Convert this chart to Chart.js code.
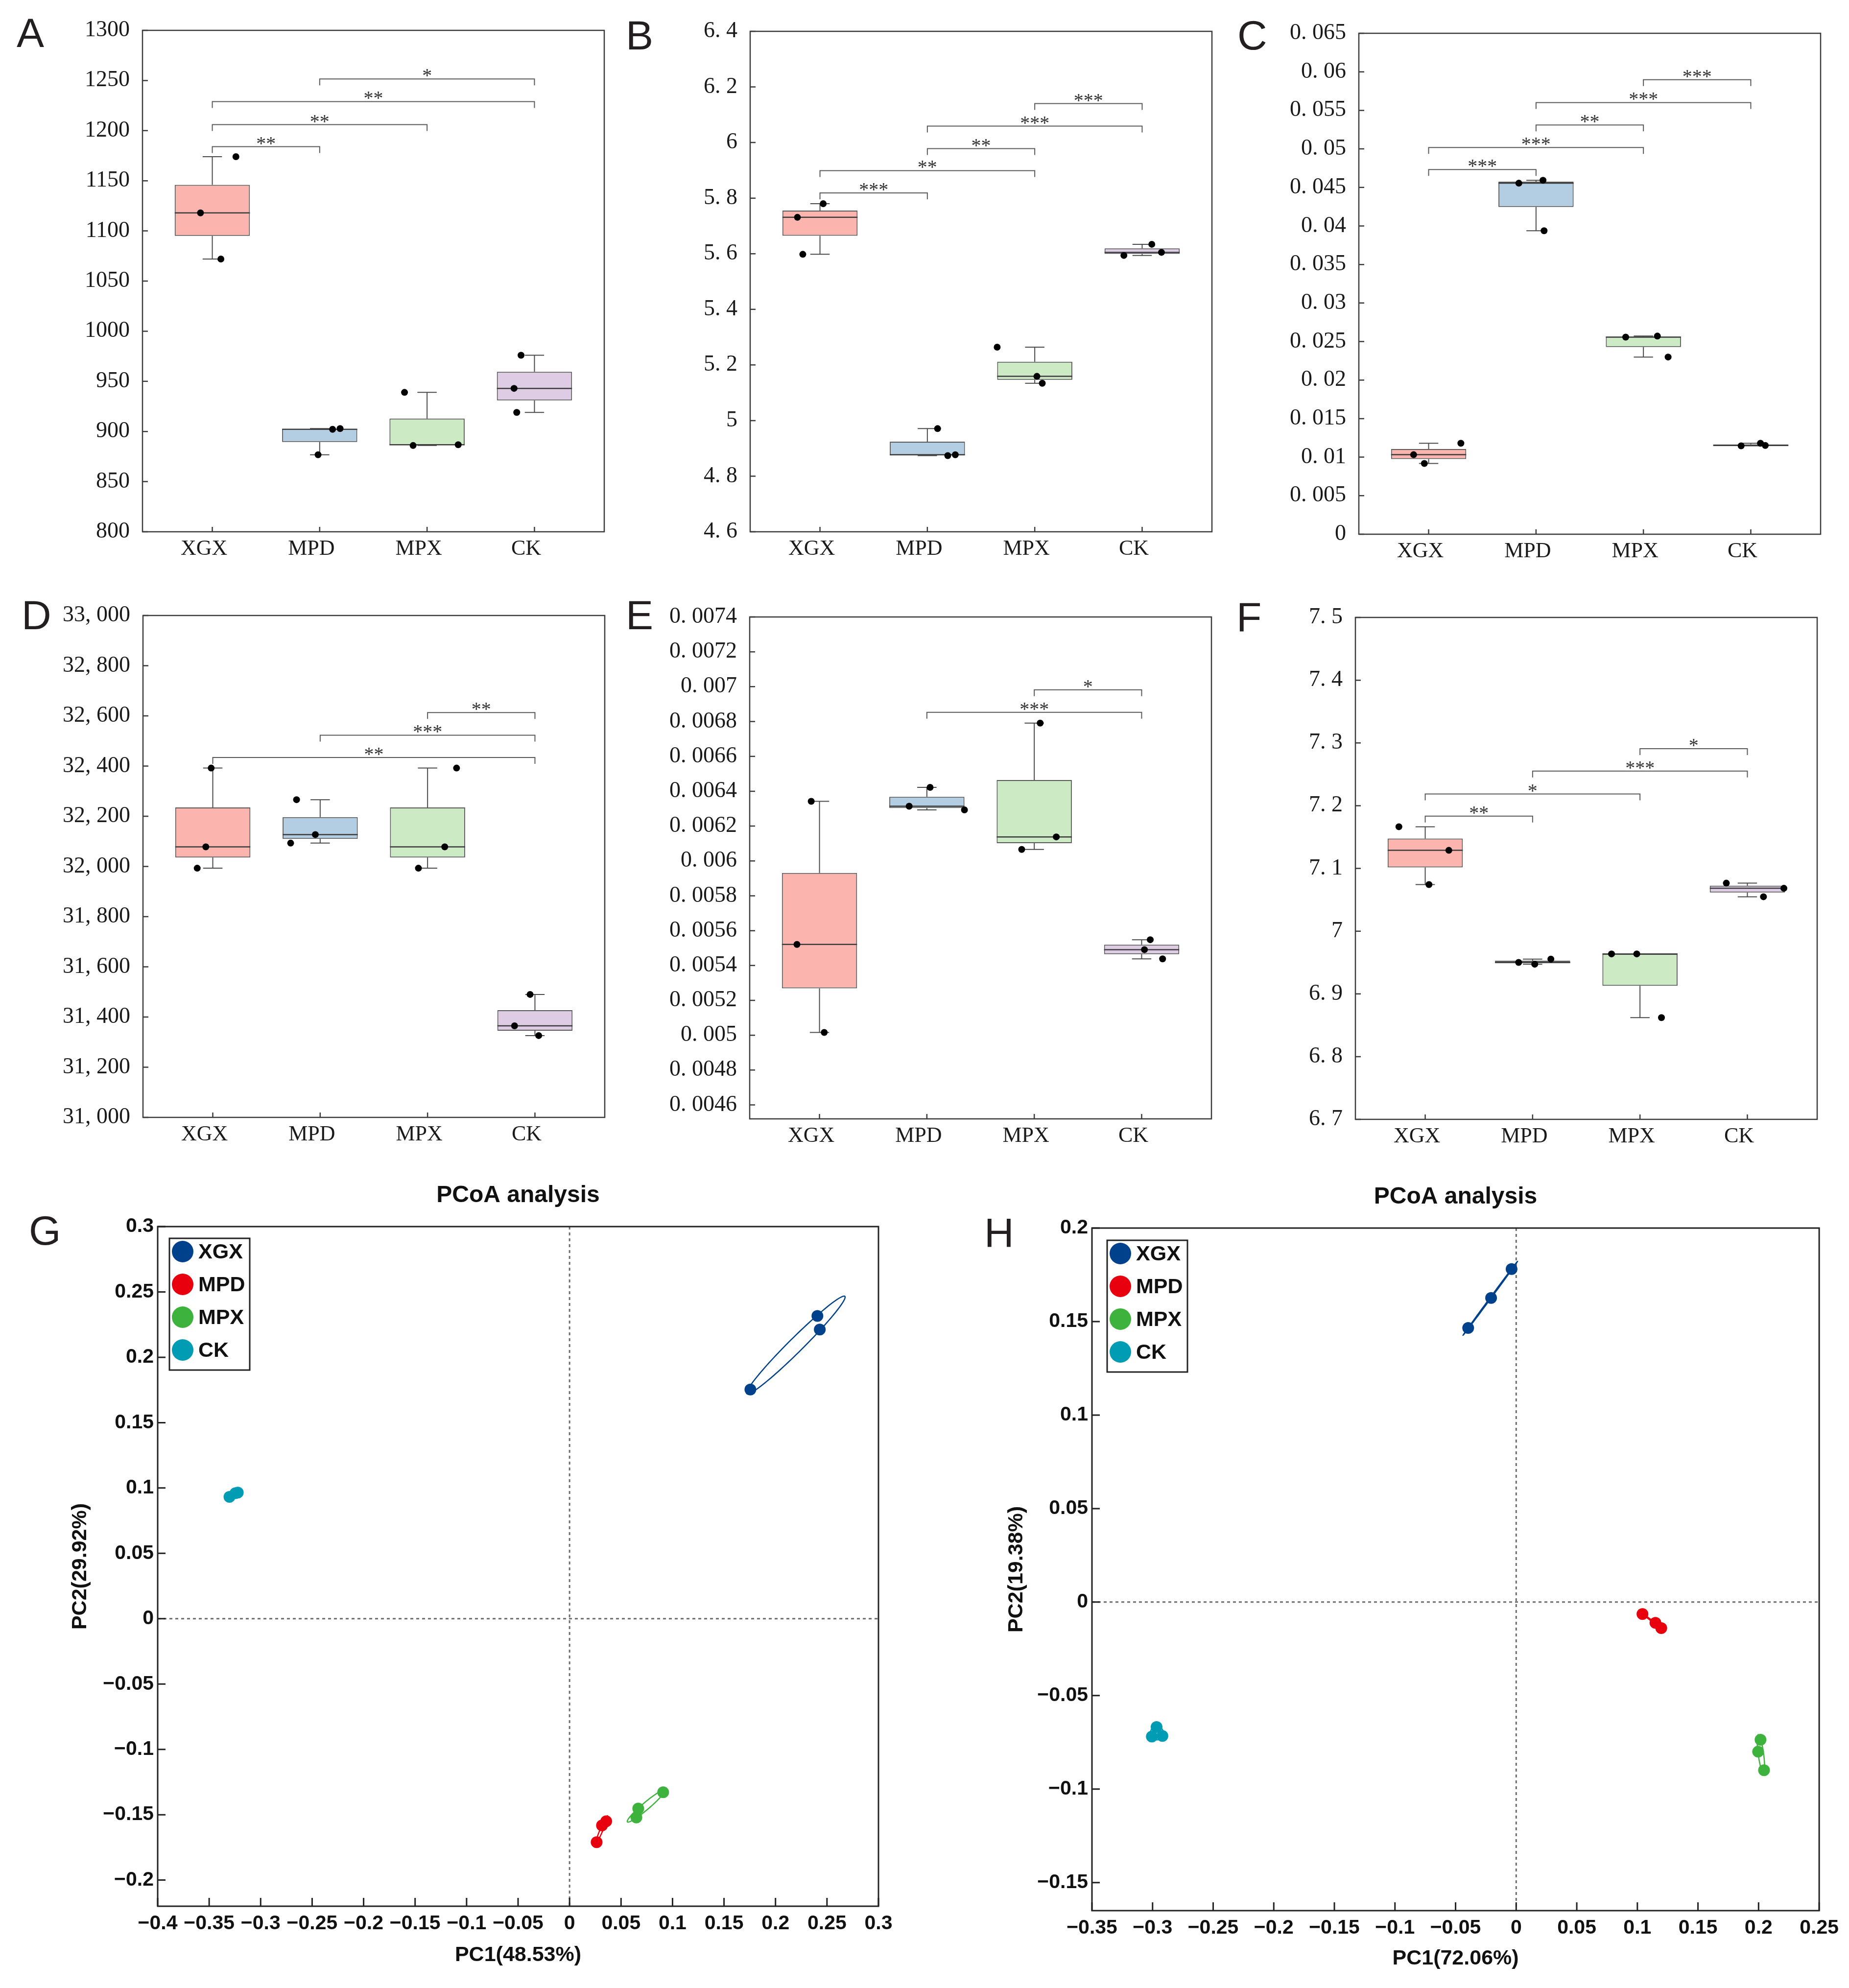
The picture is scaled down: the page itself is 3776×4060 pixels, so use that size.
<!DOCTYPE html>
<html>
<head>
<meta charset="utf-8">
<title>Box plots and PCoA</title>
<script src="https://cdn.jsdelivr.net/npm/chart.js@4.4.0/dist/chart.umd.min.js"></script>
<style>
    html, body { margin: 0; padding: 0; background: #fff; }
    #page { position: relative; width: 3776px; height: 4060px; overflow: hidden; background: #fff; }
    .letter { position: absolute; font-family: "Liberation Sans", Arial, sans-serif; font-size: 84px; line-height: 84px; color: #231f20; z-index: 5; }
</style>
</head>
<body>
<div id="page"></div>
<script>
// ---- data ----
const groups = ['XGX', 'MPD', 'MPX', 'CK'];
const boxFill = ['#FBB4AE', '#B3CDE3', '#CCEBC5', '#DECBE4'];
const pcoaColors = ['#00418B', '#E8000F', '#3DB23D', '#009CB4'];

// A
const ticksA = ['800', '850', '900', '950', '1000', '1050', '1100', '1150', '1200', '1250', '1300'];
const ptsA = [[1118, 1174, 1072], [902.2, 902.9, 876.8], [939, 886, 886.8], [976, 943, 919]];
const jitA = [[-0.11, 0.22, 0.08], [0.12, 0.19, -0.015], [-0.21, -0.13, 0.29], [-0.125, -0.19, -0.165]];
const sigA = [[1, 2, 1184, '**'], [1, 3, 1206, '**'], [1, 4, 1229, '**'], [2, 4, 1251.5, '*']];

// B
const ticksB = ['4. 6', '4. 8', '5', '5. 2', '5. 4', '5. 6', '5. 8', '6', '6. 2', '6. 4'];
const ptsB = [[5.731, 5.78, 5.598], [4.971, 4.874, 4.877], [5.264, 5.159, 5.134], [5.634, 5.594, 5.605]];
const jitB = [[-0.21, 0.03, -0.16], [0.095, 0.19, 0.26], [-0.35, 0.02, 0.07], [0.09, -0.17, 0.18]];
const sigB = [[1, 2, 5.819, '***'], [1, 3, 5.899, '**'], [2, 3, 5.978, '**'], [2, 4, 6.059, '***'], [3, 4, 6.14, '***']];

// C
const ticksC = ['0', '0. 005', '0. 01', '0. 015', '0. 02', '0. 025', '0. 03', '0. 035', '0. 04', '0. 045', '0. 05', '0. 055', '0. 06', '0. 065'];
const ptsC = [[0.01032, 0.00918, 0.0118], [0.04555, 0.04593, 0.03938], [0.02557, 0.02571, 0.02299], [0.01147, 0.0118, 0.01152]];
const jitC = [[-0.14, -0.04, 0.3], [-0.16, 0.065, 0.075], [-0.165, 0.13, 0.23], [-0.09, 0.09, 0.135]];
const sigC = [[1, 2, 0.04732, '***'], [1, 3, 0.05018, '***'], [2, 3, 0.0531, '**'], [2, 4, 0.05601, '***'], [3, 4, 0.05898, '***']];

// D
const ticksD = ['31, 000', '31, 200', '31, 400', '31, 600', '31, 800', '32, 000', '32, 200', '32, 400', '32, 600', '32, 800', '33, 000'];
const ptsD = [[32392, 32078, 31993], [32266, 32127, 32093], [32392, 32078, 31993], [31490, 31365, 31326]];
const jitD = [[-0.015, -0.065, -0.145], [-0.22, -0.045, -0.275], [0.27, 0.16, -0.085], [-0.045, -0.19, 0.035]];
const sigD = [[1, 4, 32434, '**'], [2, 4, 32523, '***'], [3, 4, 32613, '**']];

// E
const ticksE = ['0. 0046', '0. 0048', '0. 005', '0. 0052', '0. 0054', '0. 0056', '0. 0058', '0. 006', '0. 0062', '0. 0064', '0. 0066', '0. 0068', '0. 007', '0. 0072', '0. 0074'];
const ptsE = [[0.006342, 0.005521, 0.005016], [0.006422, 0.006314, 0.006293], [0.006791, 0.006138, 0.006066], [0.005548, 0.005491, 0.005438]];
const jitE = [[-0.077, -0.21, 0.044], [0.03, -0.165, 0.35], [0.055, 0.205, -0.117], [0.08, 0.026, 0.195]];
const sigE = [[2, 4, 0.006853, '***'], [3, 4, 0.006982, '*']];

// F
const ticksF = ['6. 7', '6. 8', '6. 9', '7', '7. 1', '7. 2', '7. 3', '7. 4', '7. 5'];
const ptsF = [[7.1664, 7.1288, 7.0742], [6.9502, 6.9473, 6.9555], [6.9637, 6.9637, 6.8621], [7.0765, 7.0548, 7.0683]];
const jitF = [[-0.245, 0.22, 0.035], [-0.13, 0.02, 0.17], [-0.265, -0.03, 0.2], [-0.196, 0.15, 0.34]];
const sigF = [[1, 2, 7.1834, '**'], [1, 3, 7.2186, '*'], [2, 4, 7.2551, '***'], [3, 4, 7.2909, '*']];

// G (PCoA)
const ticksGx = ['\u22120.4', '\u22120.35', '\u22120.3', '\u22120.25', '\u22120.2', '\u22120.15', '\u22120.1', '\u22120.05', '0', '0.05', '0.1', '0.15', '0.2', '0.25', '0.3'];
const ticksGy = ['\u22120.2', '\u22120.15', '\u22120.1', '\u22120.05', '0', '0.05', '0.1', '0.15', '0.2', '0.25', '0.3'];
const ptsG = [
    [[0.2407, 0.2316], [0.243, 0.2212], [0.1756, 0.1753]],
    [[0.0263, -0.171], [0.0315, -0.1582], [0.0356, -0.155]],
    [[0.0909, -0.1328], [0.0667, -0.1453], [0.0649, -0.1521]],
    [[-0.3303, 0.0932], [-0.3245, 0.096], [-0.3222, 0.0965]]
];

// H (PCoA)
const ticksHx = ['\u22120.35', '\u22120.3', '\u22120.25', '\u22120.2', '\u22120.15', '\u22120.1', '\u22120.05', '0', '0.05', '0.1', '0.15', '0.2', '0.25'];
const ticksHy = ['\u22120.15', '\u22120.1', '\u22120.05', '0', '0.05', '0.1', '0.15', '0.2'];
const ptsH = [
    [[-0.0038, 0.1781], [-0.0207, 0.1626], [-0.0396, 0.1466]],
    [[0.1042, -0.0064], [0.1149, -0.0111], [0.1197, -0.0139]],
    [[0.2016, -0.0736], [0.1996, -0.08], [0.2045, -0.0899]],
    [[-0.2967, -0.0668], [-0.3006, -0.0719], [-0.2919, -0.0716]]
];

// ---- setup ----
const serif = '"Liberation Serif", "DejaVu Serif", serif';
const sans = '"Liberation Sans", Arial, sans-serif';
const page = document.getElementById('page');
const BOX_HALF = 0.35;
const CAP_HALF = 0.09;
const ELLIPSE_SCALE = 1.25;

const parseTick = s => parseFloat(s.replace(/\u2212/g, '-').replace(/[\s,]/g, ''));

function stats(vals) {
    const s = vals.slice().sort((a, b) => a - b);
    const med = arr => {
        const m = arr.length / 2;
        return arr.length % 2 ? arr[Math.floor(m)] : (arr[m - 1] + arr[m]) / 2;
    };
    const half = Math.ceil(s.length / 2);
    return { min: s[0], max: s[s.length - 1], med: med(s), q1: med(s.slice(0, half)), q3: med(s.slice(s.length - half)) };
}

function addCanvas(left, top, width, height) {
    const c = document.createElement('canvas');
    c.width = width;
    c.height = height;
    c.style.cssText = `position:absolute;left:${left}px;top:${top}px;width:${width}px;height:${height}px;`;
    page.appendChild(c);
    return c;
}

/**
 * Frame round the plot area plus inward tick marks
 */
const axesFrame = {
    id: 'axesFrame',
    afterDraw(chart, args, opts) {
        const { ctx, chartArea: a, scales: { x, y } } = chart;
        ctx.save();
        ctx.strokeStyle = opts.color;
        ctx.lineWidth = opts.width;
        ctx.beginPath();
        x.ticks.forEach(t => {
            const px = x.getPixelForValue(t.value);
            ctx.moveTo(px, a.bottom);
            ctx.lineTo(px, a.bottom - opts.tickX);
        });
        y.ticks.forEach(t => {
            const py = y.getPixelForValue(t.value);
            ctx.moveTo(a.left, py);
            ctx.lineTo(a.left + opts.tickY, py);
        });
        ctx.stroke();
        ctx.strokeRect(a.left, a.top, a.right - a.left, a.bottom - a.top);
        ctx.restore();
    }
};

/**
 * Significance brackets with stars
 */
const sigBrackets = {
    id: 'sigBrackets',
    afterDatasetsDraw(chart, args, opts) {
        const { ctx, scales: { x, y } } = chart;
        ctx.save();
        ctx.strokeStyle = '#5a5a5a';
        ctx.lineWidth = 2;
        ctx.fillStyle = '#333';
        ctx.font = '40px ' + serif;
        ctx.textAlign = 'center';
        ctx.textBaseline = 'alphabetic';
        opts.sig.forEach(([a, b, h, label]) => {
            const x1 = x.getPixelForValue(a);
            const x2 = x.getPixelForValue(b);
            const yy = y.getPixelForValue(h);
            ctx.beginPath();
            ctx.moveTo(x1, yy + 13);
            ctx.lineTo(x1, yy);
            ctx.lineTo(x2, yy);
            ctx.lineTo(x2, yy + 13);
            ctx.stroke();
            ctx.fillText(label, (x1 + x2) / 2, yy + 6);
        });
        ctx.restore();
    }
};

/**
 * PCoA: zero lines, group ellipses, legend box and title
 */
const pcoaDecor = {
    id: 'pcoaDecor',
    beforeDatasetsDraw(chart) {
        const { ctx, chartArea: a, scales: { x, y } } = chart;
        ctx.save();
        ctx.strokeStyle = '#6e6e6e';
        ctx.lineWidth = 3;
        ctx.setLineDash([6, 6]);
        const x0 = x.getPixelForValue(0);
        const y0 = y.getPixelForValue(0);
        ctx.beginPath();
        ctx.moveTo(x0, a.top); ctx.lineTo(x0, a.bottom);
        ctx.moveTo(a.left, y0); ctx.lineTo(a.right, y0);
        ctx.stroke();
        ctx.setLineDash([]);

        chart.data.datasets.forEach(ds => {
            const pts = ds.data;
            const n = pts.length;
            const mx = pts.reduce((s, p) => s + p.x, 0) / n;
            const my = pts.reduce((s, p) => s + p.y, 0) / n;
            let sxx = 0, syy = 0, sxy = 0;
            pts.forEach(p => {
                sxx += (p.x - mx) * (p.x - mx);
                syy += (p.y - my) * (p.y - my);
                sxy += (p.x - mx) * (p.y - my);
            });
            sxx /= (n - 1); syy /= (n - 1); sxy /= (n - 1);
            const l11 = Math.sqrt(sxx);
            const l21 = l11 > 0 ? sxy / l11 : 0;
            const l22 = Math.sqrt(Math.max(syy - l21 * l21, 0));
            ctx.strokeStyle = ds.backgroundColor;
            ctx.lineWidth = 2.5;
            ctx.beginPath();
            for (let k = 0; k <= 120; k++) {
                const t = k / 120 * Math.PI * 2;
                const c = Math.cos(t), s = Math.sin(t);
                const vx = mx + ELLIPSE_SCALE * l11 * c;
                const vy = my + ELLIPSE_SCALE * (l21 * c + l22 * s);
                const px = x.getPixelForValue(vx);
                const py = y.getPixelForValue(vy);
                if (k === 0) ctx.moveTo(px, py); else ctx.lineTo(px, py);
            }
            ctx.closePath();
            ctx.stroke();
        });
        ctx.restore();
    },
    afterDraw(chart, args, opts) {
        const { ctx, chartArea: a } = chart;
        ctx.save();
        // title
        ctx.fillStyle = '#111';
        ctx.font = 'bold 48px ' + sans;
        ctx.textAlign = 'center';
        ctx.textBaseline = 'middle';
        ctx.fillText(opts.title, (a.left + a.right) / 2, a.top - 63);
        // legend
        const bx = a.left + opts.legendOffset[0];
        const by = a.top + opts.legendOffset[1];
        ctx.fillStyle = '#fff';
        ctx.fillRect(bx, by, 164, 269);
        ctx.strokeStyle = '#222';
        ctx.lineWidth = 3;
        ctx.strokeRect(bx, by, 164, 269);
        ctx.font = 'bold 43px ' + sans;
        ctx.textAlign = 'left';
        chart.data.datasets.forEach((ds, i) => {
            const cy = by + 27 + i * 67;
            ctx.fillStyle = ds.backgroundColor;
            ctx.beginPath();
            ctx.arc(bx + 27, cy, 22, 0, Math.PI * 2);
            ctx.fill();
            ctx.fillStyle = '#111';
            ctx.fillText(ds.label, bx + 59, cy + 2);
        });
        ctx.restore();
    }
};

// ---- box plot panels ----
const boxPanels = [
    { ticks: ticksA, pts: ptsA, jit: jitA, sig: sigA, plot: [291, 62, 1234, 1086] },
    { ticks: ticksB, pts: ptsB, jit: jitB, sig: sigB, plot: [1532, 64, 2475, 1086] },
    { ticks: ticksC, pts: ptsC, jit: jitC, sig: sigC, plot: [2775, 68, 3718, 1091] },
    { ticks: ticksD, pts: ptsD, jit: jitD, sig: sigD, plot: [292, 1257, 1235, 2282] },
    { ticks: ticksE, pts: ptsE, jit: jitE, sig: sigE, plot: [1531, 1260, 2474, 2285], yMin: 0.00452 },
    { ticks: ticksF, pts: ptsF, jit: jitF, sig: sigF, plot: [2768, 1261, 3711, 2286] }
];

function makeBoxPanel(p) {
    // top margin must cover half a label line plus tick padding, or Chart.js pushes the plot down
    const M = { l: 280, r: 40, t: 60, b: 100 };
    const [L, T, R, B] = p.plot;
    const canvas = addCanvas(L - M.l, T - M.t, R - L + M.l + M.r, B - T + M.t + M.b);

    const st = p.pts.map(stats);
    const boxes = st.map((s, i) => ({ x: i + 1, y: [s.q1, s.q3] }));
    const medians = [], whiskers = [], caps = [];
    st.forEach((s, i) => {
        const c = i + 1;
        medians.push({ x: c - BOX_HALF, y: s.med }, { x: c + BOX_HALF, y: s.med }, { x: c, y: null });
        whiskers.push({ x: c, y: s.q3 }, { x: c, y: s.max }, { x: c, y: null },
                      { x: c, y: s.q1 }, { x: c, y: s.min }, { x: c, y: null });
        caps.push({ x: c - CAP_HALF, y: s.max }, { x: c + CAP_HALF, y: s.max }, { x: c, y: null },
                  { x: c - CAP_HALF, y: s.min }, { x: c + CAP_HALF, y: s.min }, { x: c, y: null });
    });
    const dots = [];
    p.pts.forEach((vals, i) => vals.forEach((v, k) => dots.push({ x: i + 1 + p.jit[i][k], y: v })));

    const yMin = p.yMin !== undefined ? p.yMin : parseTick(p.ticks[0]);
    const yMax = parseTick(p.ticks[p.ticks.length - 1]);

    new Chart(canvas, {
        type: 'bar',
        data: {
            datasets: [
                { type: 'line', data: whiskers, borderColor: '#4a4a4a', borderWidth: 2, pointRadius: 0, order: 4 },
                { type: 'line', data: caps, borderColor: '#4a4a4a', borderWidth: 2, pointRadius: 0, order: 4 },
                {
                    type: 'bar', data: boxes, backgroundColor: boxFill, borderColor: '#5a5a5a',
                    borderWidth: 2, borderSkipped: false, barPercentage: 0.7, categoryPercentage: 1, order: 3
                },
                { type: 'line', data: medians, borderColor: '#3c3c3c', borderWidth: 2.5, pointRadius: 0, order: 2 },
                { type: 'scatter', data: dots, backgroundColor: '#000', borderWidth: 0, pointRadius: 7, order: 1 }
            ]
        },
        options: {
            responsive: false,
            devicePixelRatio: 1,
            animation: false,
            layout: { padding: { top: M.t, right: M.r, left: 0, bottom: 0 } },
            plugins: {
                legend: { display: false },
                tooltip: { enabled: false },
                sigBrackets: { sig: p.sig },
                axesFrame: { color: '#3b3b3b', width: 2.5, tickX: 10, tickY: 11 }
            },
            scales: {
                x: {
                    type: 'linear', min: 0.35, max: 4.65, offset: false,
                    grid: { display: false, drawTicks: false },
                    border: { display: false },
                    afterBuildTicks: s => { s.ticks = groups.map((g, i) => ({ value: i + 1 })); },
                    afterFit: s => { s.height = M.b; },
                    ticks: {
                        autoSkip: false, maxRotation: 0, minRotation: 0, padding: 9, labelOffset: -17,
                        color: '#1a1a1a', font: { family: serif, size: 44 },
                        callback: (v, i) => groups[i]
                    }
                },
                y: {
                    type: 'linear', min: yMin, max: yMax,
                    grid: { display: false, drawTicks: false },
                    border: { display: false },
                    afterBuildTicks: s => { s.ticks = p.ticks.map(t => ({ value: parseTick(t) })); },
                    afterFit: s => { s.width = M.l; },
                    ticks: {
                        autoSkip: false, padding: 26, color: '#1a1a1a',
                        font: { family: serif, size: 46 },
                        callback: (v, i) => p.ticks[i]
                    }
                }
            }
        },
        plugins: [sigBrackets, axesFrame]
    });
}

boxPanels.forEach(makeBoxPanel);

// ---- PCoA panels ----
const pcoaPanels = [
    {
        pts: ptsG, xTicks: ticksGx, yTicks: ticksGy, yMin: -0.22,
        xTitle: 'PC1(48.53%)', yTitle: 'PC2(29.92%)',
        plot: [322, 2505, 1794, 3893], canvasLeft: 138, canvasBottom: 4019, legendOffset: [24, 24]
    },
    {
        pts: ptsH, xTicks: ticksHx, yTicks: ticksHy, yMin: -0.165,
        xTitle: 'PC1(72.06%)', yTitle: 'PC2(19.38%)',
        plot: [2230, 2508, 3716, 3902], canvasLeft: 2050, canvasBottom: 4026, legendOffset: [31, 25]
    }
];

function makePcoa(p) {
    const [L, T, R, B] = p.plot;
    const top = 2380, right = R + 50;
    const M = { l: L - p.canvasLeft, b: p.canvasBottom - B, t: T - top, r: right - R };
    const canvas = addCanvas(p.canvasLeft, top, right - p.canvasLeft, p.canvasBottom - top);

    const tickFont = { family: sans, size: 41, weight: 'bold' };
    const titleFont = { family: sans, size: 43, weight: 'bold' };

    new Chart(canvas, {
        type: 'scatter',
        data: {
            datasets: p.pts.map((grp, gi) => ({
                label: groups[gi],
                data: grp.map(([x, y]) => ({ x, y })),
                backgroundColor: pcoaColors[gi],
                borderWidth: 0,
                pointRadius: 12
            }))
        },
        options: {
            responsive: false,
            devicePixelRatio: 1,
            animation: false,
            layout: { padding: { top: M.t, right: M.r, left: 0, bottom: 0 } },
            plugins: {
                legend: { display: false },
                tooltip: { enabled: false },
                pcoaDecor: { title: 'PCoA analysis', legendOffset: p.legendOffset },
                axesFrame: { color: '#222', width: 3, tickX: 17, tickY: 16 }
            },
            scales: {
                x: {
                    type: 'linear',
                    min: parseTick(p.xTicks[0]), max: parseTick(p.xTicks[p.xTicks.length - 1]),
                    grid: { display: false, drawTicks: false },
                    border: { display: false },
                    afterBuildTicks: s => { s.ticks = p.xTicks.map(t => ({ value: parseTick(t) })); },
                    afterFit: s => { s.height = M.b; },
                    ticks: {
                        autoSkip: false, maxRotation: 0, minRotation: 0, padding: 11,
                        color: '#111', font: tickFont, callback: (v, i) => p.xTicks[i]
                    },
                    title: { display: true, text: p.xTitle, color: '#111', font: titleFont, padding: 0 }
                },
                y: {
                    type: 'linear',
                    min: p.yMin, max: parseTick(p.yTicks[p.yTicks.length - 1]),
                    grid: { display: false, drawTicks: false },
                    border: { display: false },
                    afterBuildTicks: s => { s.ticks = p.yTicks.map(t => ({ value: parseTick(t) })); },
                    afterFit: s => { s.width = M.l; },
                    ticks: {
                        autoSkip: false, padding: 8, color: '#111',
                        font: tickFont, callback: (v, i) => p.yTicks[i]
                    },
                    title: { display: true, text: p.yTitle, color: '#111', font: titleFont, padding: 0 }
                }
            }
        },
        plugins: [pcoaDecor, axesFrame]
    });
}

pcoaPanels.forEach(makePcoa);

// ---- panel letters ----
const letters = [['A', 34, 36], ['B', 1278, 41], ['C', 2527, 41], ['D', 44, 1225],
                 ['E', 1278, 1225], ['F', 2525, 1229], ['G', 59, 2482], ['H', 2010, 2487]];
letters.forEach(([txt, left, capTop]) => {
    const d = document.createElement('div');
    d.className = 'letter';
    d.textContent = txt;
    d.style.left = left + 'px';
    d.style.top = (capTop - 11) + 'px';
    page.appendChild(d);
});
</script>
</body>
</html>
